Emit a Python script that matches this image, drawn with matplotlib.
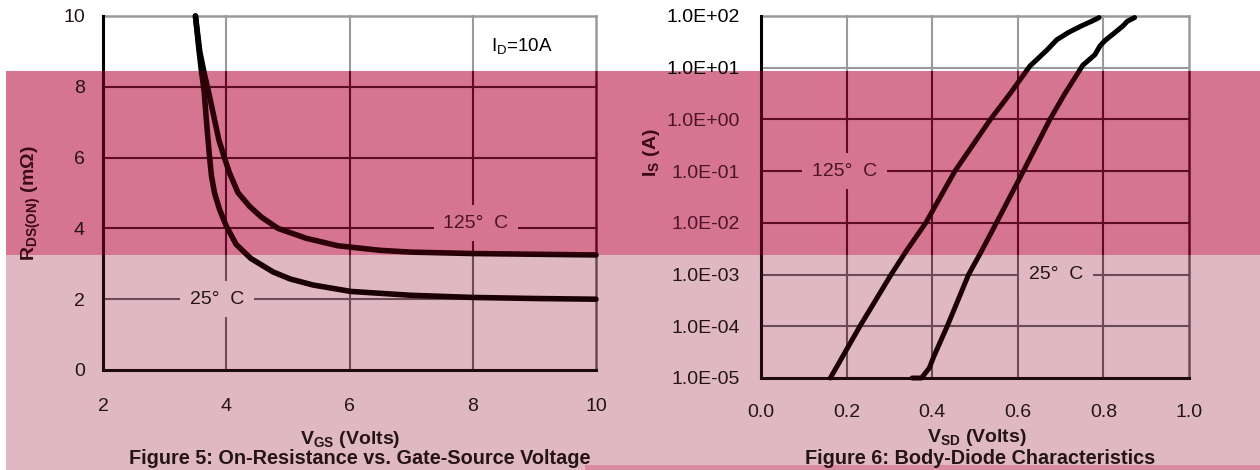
import matplotlib
matplotlib.use("Agg")
import matplotlib.pyplot as plt
from matplotlib.patches import Rectangle

plt.rcParams['font.family'] = ['Liberation Sans', 'DejaVu Sans']
plt.rcParams['mathtext.fontset'] = 'custom'
plt.rcParams['mathtext.rm'] = 'Liberation Sans'
plt.rcParams['mathtext.it'] = 'Liberation Sans:italic'
plt.rcParams['mathtext.bf'] = 'Liberation Sans:bold'

# ---------------- data ----------------
# Figure 5: On-resistance vs gate-source voltage
vgs_125 = [3.50, 3.57, 3.64, 3.72, 3.80, 3.88, 3.97, 4.05, 4.19, 4.38, 4.57, 4.84, 5.30, 5.81, 6.50, 7.00,
           8.00, 9.00, 10.0]
rds_125 = [10.0, 9.00, 8.40, 7.80, 7.15, 6.50, 6.00, 5.58, 5.01, 4.62, 4.32, 4.00, 3.72, 3.51, 3.38, 3.33,
           3.29, 3.27, 3.25]
vgs_25 = [3.50, 3.56, 3.60, 3.64, 3.68, 3.73, 3.76, 3.81, 3.89, 4.00, 4.16, 4.40, 4.76, 5.04, 5.41, 6.02,
          7.00, 8.00, 9.00, 10.0]
rds_25 = [10.0, 9.00, 8.40, 7.90, 7.00, 6.00, 5.48, 5.00, 4.54, 4.07, 3.55, 3.15, 2.77, 2.57, 2.40, 2.22,
          2.11, 2.05, 2.02, 2.00]
fig5_xticks = [2, 4, 6, 8, 10]
fig5_yticks = [0, 2, 4, 6, 8, 10]

# Figure 6: Body-diode characteristics
vsd_125 = [0.162, 0.231, 0.304, 0.339, 0.385, 0.453, 0.536, 0.582, 0.628, 0.668, 0.691, 0.718, 0.749, 0.773, 0.790]
is_125 = [1e-5, 1e-4, 1e-3, 2.82e-3, 1e-2, 1e-1, 1.0, 3.16, 10.7, 21.9, 34.7, 47.9, 64.6, 79.4, 93.3]
vsd_25 = [0.353, 0.375, 0.393, 0.404, 0.435, 0.485, 0.515, 0.550, 0.613, 0.675, 0.710, 0.752, 0.780, 0.792,
          0.803, 0.827, 0.846, 0.856, 0.873]
is_25 = [1e-5, 1e-5, 1.55e-5, 2.63e-5, 1e-4, 1e-3, 2.82e-3, 1e-2, 1e-1, 1.0, 3.16, 11.2, 17.8, 26.3,
         33.1, 47.9, 64.6, 79.4, 93.3]
fig6_xticks = [0.0, 0.2, 0.4, 0.6, 0.8, 1.0]
fig6_xticklabels = ['0.0', '0.2', '0.4', '0.6', '0.8', '1.0']
fig6_yticks = [1e-5, 1e-4, 1e-3, 1e-2, 1e-1, 1e0, 1e1, 1e2]
fig6_yticklabels = ['1.0E-05', '1.0E-04', '1.0E-03', '1.0E-02', '1.0E-01', '1.0E+00', '1.0E+01', '1.0E+02']

# ---------------- layout / style ----------------
W, H = 1260, 470
fig = plt.figure(figsize=(W / 100, H / 100), dpi=100, facecolor='white')

BANDS = [
    dict(y0=0, y1=71, bg='#ffffff', grid='#9a9a9a', axis='#000000', curve='#000000', text='#000000'),
    dict(y0=71, y1=255, bg='#d67592', grid='#5e0b28', axis='#480016', curve='#2c0006', text='#4b1428'),
    dict(y0=255, y1=470, bg='#e0b8c4', grid='#6b4b55', axis='#1e0a0e', curve='#1a0004', text='#241418'),
]


def px_rect(x0, y0, x1, y1, **kw):
    return Rectangle((x0 / W, 1 - y1 / H), (x1 - x0) / W, (y1 - y0) / H,
                     transform=fig.transFigure, **kw)


# background bands
fig.patches.append(px_rect(6, 71, W, 255, facecolor=BANDS[1]['bg'], edgecolor='none', zorder=-10))
fig.patches.append(px_rect(6, 255, W, H, facecolor=BANDS[2]['bg'], edgecolor='none', zorder=-10))
fig.patches.append(px_rect(585, 465, W, H, facecolor='#d98aa3', edgecolor='none', zorder=-9))


def band_of(ypx):
    for b in BANDS:
        if b['y0'] <= ypx < b['y1']:
            return b
    return BANDS[-1]


def banded(draw):
    for b in BANDS:
        for art in draw(b):
            art.set_clip_path(px_rect(0, b['y0'], W, b['y1']))


def frame(ax, xgrid, ygrid, xlim, ylim):
    def draw(b):
        arts = []
        for v in xgrid:
            arts.append(ax.axvline(v, color=b['grid'], lw=1.5, zorder=1))
        for v in ygrid:
            arts.append(ax.axhline(v, color=b['grid'], lw=1.5, zorder=1))
        arts.append(ax.axhline(ylim[1], color=b['grid'], lw=1.8, zorder=1, solid_capstyle='projecting'))
        arts.append(ax.axvline(xlim[1], color=b['grid'], lw=1.8, zorder=1, solid_capstyle='projecting'))
        arts.append(ax.axvline(xlim[0], color=b['axis'], lw=2.2, zorder=2, solid_capstyle='projecting'))
        arts.append(ax.axhline(ylim[0], color=b['axis'], lw=2.2, zorder=2, solid_capstyle='projecting'))
        return arts
    banded(draw)


def style_ticks(ax, ypad, xpad):
    ax.tick_params(length=0, labelsize=14)
    ax.tick_params(axis='y', pad=ypad)
    ax.tick_params(axis='x', pad=xpad)
    for s in ax.spines.values():
        s.set_visible(False)
    ax.set_facecolor('none')


def color_yticks(ax, xref):
    for t in ax.yaxis.get_major_ticks():
        v = t.get_loc()
        ypx = H - ax.transData.transform((xref, v))[1]
        t.label1.set_color(band_of(ypx)['text'])
    for lab in ax.get_xticklabels():
        lab.set_color(BANDS[2]['text'])


def label_box(ax, x, y, s, ypx):
    b = band_of(ypx)
    ax.text(x, y, s, fontsize=14, color=b['text'], ha='center', va='center', zorder=3,
            bbox=dict(boxstyle='square,pad=0.5', facecolor=b['bg'], edgecolor='none'))


# ---------------- Figure 5 ----------------
ax1 = fig.add_axes([103 / W, 1 - 370 / H, 493 / W, 354 / H])
ax1.set_xlim(2, 10)
ax1.set_ylim(0, 10)
ax1.set_xticks(fig5_xticks)
ax1.set_yticks(fig5_yticks)
style_ticks(ax1, ypad=13, xpad=20)
frame(ax1, [4, 6, 8], [2, 4, 6, 8], (2, 10), (0, 10))


def curves5(b):
    l1, = ax1.plot(vgs_125, rds_125, color=b['curve'], lw=4, zorder=4,
                   solid_capstyle='round', solid_joinstyle='round')
    l2, = ax1.plot(vgs_25, rds_25, color=b['curve'], lw=4, zorder=4,
                   solid_capstyle='round', solid_joinstyle='round')
    return [l1, l2]


banded(curves5)
label_box(ax1, 8.05, 4.15, '125°  C', 225)
label_box(ax1, 3.85, 2.0, '25°  C', 298)
ax1.text(8.8, 9.15, r'I$_\mathregular{D}$=10A', fontsize=13.5, ha='center', va='center', color='black')
color_yticks(ax1, 2)

fig.text(31 / W, 1 - 203 / H, r'$\mathbf{R_{DS(ON)}}$ (mΩ)', rotation=90, fontsize=14,
         fontweight='bold', ha='center', va='center', color='#3a0a18')
fig.text(350 / W, 1 - 439 / H, r'$\mathbf{V_{GS}}$ (Volts)', fontsize=14, fontweight='bold',
         ha='center', va='center', color=BANDS[2]['text'])
fig.text(360 / W, 1 - 459 / H, 'Figure 5: On-Resistance vs. Gate-Source Voltage', fontsize=14.3,
         fontweight='bold', ha='center', va='center', color=BANDS[2]['text'])

# ---------------- Figure 6 ----------------
ax2 = fig.add_axes([761 / W, 1 - 378 / H, 428 / W, 362 / H])
ax2.set_yscale('log')
ax2.set_xlim(0, 1)
ax2.set_ylim(1e-5, 1e2)
ax2.set_xticks(fig6_xticks, fig6_xticklabels)
ax2.set_yticks(fig6_yticks, fig6_yticklabels)
ax2.minorticks_off()
style_ticks(ax2, ypad=15, xpad=19)
frame(ax2, [0.2, 0.4, 0.6, 0.8], fig6_yticks[1:-1], (0, 1), (1e-5, 1e2))


def curves6(b):
    l1, = ax2.plot(vsd_125, is_125, color=b['curve'], lw=3.6, zorder=4,
                   solid_capstyle='round', solid_joinstyle='round')
    l2, = ax2.plot(vsd_25, is_25, color=b['curve'], lw=3.6, zorder=4,
                   solid_capstyle='round', solid_joinstyle='round')
    return [l1, l2]


banded(curves6)
label_box(ax2, 0.195, 1e-1, '125°  C', 172)
label_box(ax2, 0.69, 1e-3, '25°  C', 274)
color_yticks(ax2, 0)

fig.text(651 / W, 1 - 153 / H, r'$\mathbf{I_S}$ (A)', rotation=90, fontsize=14,
         fontweight='bold', ha='center', va='center', color='#3a0a18')
fig.text(977 / W, 1 - 437 / H, r'$\mathbf{V_{SD}}$ (Volts)', fontsize=14, fontweight='bold',
         ha='center', va='center', color=BANDS[2]['text'])
fig.text(980 / W, 1 - 459 / H, 'Figure 6: Body-Diode Characteristics', fontsize=14.3,
         fontweight='bold', ha='center', va='center', color=BANDS[2]['text'])

fig.savefig('out.png', dpi=100, facecolor='white')
